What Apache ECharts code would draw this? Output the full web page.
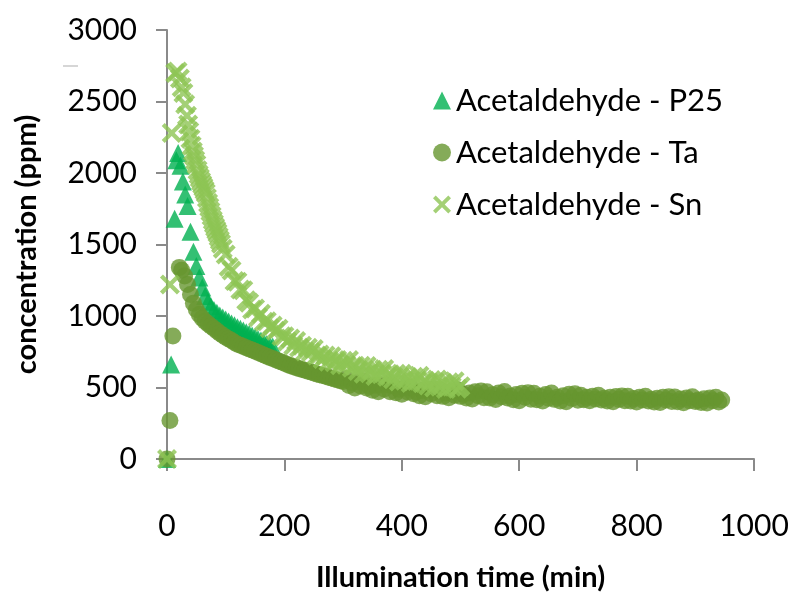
<!DOCTYPE html>
<html>
<head>
<meta charset="utf-8">
<script src="https://cdn.jsdelivr.net/npm/echarts@6/dist/echarts.min.js"></script>
<style>
  html, body { margin: 0; padding: 0; background: #fff; }
  #chart { width: 794px; height: 606px; }
</style>
</head>
<body>
<div id="chart"></div>
<script>
// Acetaldehyde concentration under illumination for three catalysts
const p25Time = [0, 7, 13, 16, 19, 23, 27, 31, 35, 40, 45, 50, 55, 60, 65, 70, 75, 80, 85, 90, 95, 100, 105, 110, 115, 120, 125, 130, 135, 140, 145, 150, 155, 160, 165, 170, 175, 180];
const p25Conc = [0, 660, 1680, 2090, 2140, 2050, 1940, 1850, 1770, 1590, 1450, 1350, 1270, 1200, 1140, 1100, 1068, 1042, 1022, 1004, 990, 976, 962, 948, 935, 922, 910, 898, 887, 876, 864, 852, 840, 828, 816, 805, 795, 786];

const taTime = [0, 5, 10, 21, 25, 30, 35, 40, 45, 50, 55, 60, 65, 70, 75, 80, 85, 90, 95, 100,
  105, 110, 115, 120, 125, 130, 135, 140, 145, 150, 155, 160, 165, 170, 175, 180, 185, 190, 195, 200,
  205, 210, 215, 220, 225, 230, 235, 240, 245, 250, 255, 260, 265, 270, 275, 280, 285, 290, 295, 300,
  305, 310, 315, 320, 325, 330, 335, 340, 345, 350, 355, 360, 365, 370, 375, 380, 385, 390, 395, 400,
  405, 410, 415, 420, 425, 430, 435, 440, 445, 450, 455, 460, 465, 470, 475, 480, 485, 490, 495, 500,
  505, 510, 515, 520, 525, 530, 535, 540, 545, 550, 555, 560, 565, 570, 575, 580, 585, 590, 595, 600,
  605, 610, 615, 620, 625, 630, 635, 640, 645, 650, 655, 660, 665, 670, 675, 680, 685, 690, 695, 700,
  705, 710, 715, 720, 725, 730, 735, 740, 745, 750, 755, 760, 765, 770, 775, 780, 785, 790, 795, 800,
  805, 810, 815, 820, 825, 830, 835, 840, 845, 850, 855, 860, 865, 870, 875, 880, 885, 890, 895, 900,
  905, 910, 915, 920, 925, 930, 935, 940, 945];
const taConc = [0, 270, 860, 1340, 1320, 1280, 1220, 1150, 1090, 1045, 1010, 985, 962, 945, 928, 912, 896, 880, 866, 852,
  840, 828, 815, 803, 795, 786, 778, 770, 762, 754, 745, 736, 727, 718, 710, 702, 694, 686, 678, 670,
  661, 653, 646, 639, 632, 626, 620, 614, 608, 601, 595, 589, 584, 578, 572, 566, 560, 554, 548, 542,
  563, 514, 534, 497, 540, 510, 545, 497, 509, 481, 515, 470, 519, 489, 520, 471, 512, 464, 487, 452,
  496, 468, 504, 457, 470, 443, 479, 435, 486, 457, 489, 442, 484, 438, 462, 428, 473, 446, 484, 438,
  452, 426, 462, 419, 471, 443, 475, 429, 471, 426, 450, 416, 461, 435, 472, 426, 440, 415, 451, 408,
  459, 432, 464, 418, 460, 415, 439, 406, 451, 425, 462, 417, 431, 406, 442, 400, 452, 424, 457, 411,
  446, 414, 431, 407, 439, 419, 446, 413, 424, 406, 431, 401, 437, 417, 441, 407, 438, 406, 423, 399,
  431, 412, 439, 406, 417, 399, 425, 395, 431, 412, 436, 402, 433, 401, 419, 394, 427, 408, 435, 402,
  413, 395, 421, 392, 427, 408, 432, 399, 412];

const snTime = [0, 5, 8, 14, 18, 22, 25, 28, 31, 34, 36, 38, 40, 42, 44, 46, 48, 50, 52, 54, 56, 58, 60, 62, 64, 66, 68, 70,
  72, 74, 76, 78, 80, 82, 84, 86, 88, 90, 92, 95,
  100, 105, 110, 115, 120, 125, 130, 135, 140, 145, 150, 155, 160, 165, 170, 175, 180, 185, 190, 195, 200,
  205, 210, 215, 220, 225, 230, 235, 240, 245, 250, 255, 260, 265, 270, 275, 280, 285, 290, 295, 300,
  305, 310, 315, 320, 325, 330, 335, 340, 345, 350, 355, 360, 365, 370, 375, 380, 385, 390, 395, 400,
  405, 410, 415, 420, 425, 430, 435, 440, 445, 450, 455, 460, 465, 470, 475, 480, 485, 490, 495, 500];
const snConc = [0, 1220, 2280, 2700, 2710, 2660, 2600, 2560, 2480, 2400, 2340, 2290, 2240, 2190, 2150, 2120, 2090, 2060, 2020, 1990, 1965, 1940, 1920, 1900, 1880, 1860, 1825, 1790,
  1760, 1730, 1700, 1670, 1645, 1620, 1600, 1580, 1555, 1530, 1505, 1470,
  1430, 1345, 1318, 1245, 1240, 1185, 1180, 1110, 1093, 1045, 1052, 992, 1015, 960, 963, 914, 933, 896, 910, 858, 858,
  822, 842, 793, 826, 780, 792, 751, 778, 749, 770, 724, 731, 700, 724, 680, 718, 676, 692, 656, 687,
  659, 693, 638, 652, 616, 652, 597, 651, 600, 625, 581, 625, 593, 629, 576, 592, 558, 596, 542, 597,
  547, 573, 531, 576, 546, 583, 530, 547, 514, 553, 500, 556, 506, 533, 490, 536, 506, 543, 491, 509];

const seriesNames = ['Acetaldehyde - P25', 'Acetaldehyde - Ta', 'Acetaldehyde - Sn'];
const xTickMax = 1000, xTickStep = 200;
const yTickMax = 3000, yTickStep = 500;

const pairs = (t, c) => t.map((v, i) => [v, c[i]]);
const crossPath = 'path://M0,15 L15,0 L50,35 L85,0 L100,15 L65,50 L100,85 L85,100 L50,65 L15,100 L0,85 L35,50 Z';

const FONT = 'Lato, "Open Sans", sans-serif';
const AXIS_GREY = '#8a8a8a';
const plain = v => String(v);

const chart = echarts.init(document.getElementById('chart'), null, { renderer: 'canvas' });
chart.setOption({
  backgroundColor: '#ffffff',
  animation: false,
  grid: { left: 167, top: 30, right: 40, bottom: 147, containLabel: false },
  xAxis: {
    type: 'value', min: 0, max: xTickMax, interval: xTickStep,
    name: 'Illumination time (min)', nameLocation: 'middle', nameGap: 104,
    nameTextStyle: { fontFamily: FONT, fontWeight: 'bold', fontSize: 29, color: '#000' },
    axisLine: { show: true, onZero: false, lineStyle: { color: AXIS_GREY, width: 2 } },
    axisTick: { show: true, inside: false, length: 12, lineStyle: { color: AXIS_GREY, width: 2 } },
    axisLabel: { margin: 52, fontFamily: FONT, fontSize: 30, color: '#000', formatter: plain },
    splitLine: { show: false }
  },
  yAxis: {
    type: 'value', min: 0, max: yTickMax, interval: yTickStep,
    name: 'concentration (ppm)', nameLocation: 'middle', nameGap: 126,
    nameTextStyle: { fontFamily: FONT, fontWeight: 'bold', fontSize: 29, color: '#000' },
    axisLine: { show: true, onZero: false, lineStyle: { color: AXIS_GREY, width: 2 } },
    axisTick: { show: true, inside: false, length: 11, lineStyle: { color: AXIS_GREY, width: 2 } },
    axisLabel: { margin: 30, fontFamily: FONT, fontSize: 30, color: '#000', formatter: plain },
    splitLine: { show: false }
  },
  legend: {
    orient: 'vertical', left: 428, top: 80,
    itemWidth: 18, itemHeight: 18, itemGap: 21, itemTextGap: 10,
    textStyle: { fontFamily: FONT, fontSize: 31, color: '#000', lineHeight: 31 },
    data: [
      { name: seriesNames[0], icon: 'triangle' },
      { name: seriesNames[1], icon: 'circle' },
      { name: seriesNames[2], icon: crossPath }
    ]
  },
  graphic: [
    { type: 'line', shape: { x1: 63, y1: 66, x2: 78, y2: 66 }, style: { stroke: '#c8c8c8', lineWidth: 1.5 } }
  ],
  series: [
    {
      name: seriesNames[0], type: 'scatter', symbol: 'triangle', symbolSize: 18,
      itemStyle: { color: '#00B050' }, data: pairs(p25Time, p25Conc)
    },
    {
      name: seriesNames[1], type: 'scatter', symbol: 'circle', symbolSize: 17,
      itemStyle: { color: '#66962F' }, data: pairs(taTime, taConc)
    },
    {
      name: seriesNames[2], type: 'scatter', symbol: crossPath, symbolSize: 20,
      itemStyle: { color: '#8DC454' }, data: pairs(snTime, snConc)
    }
  ]
});
</script>
</body>
</html>
